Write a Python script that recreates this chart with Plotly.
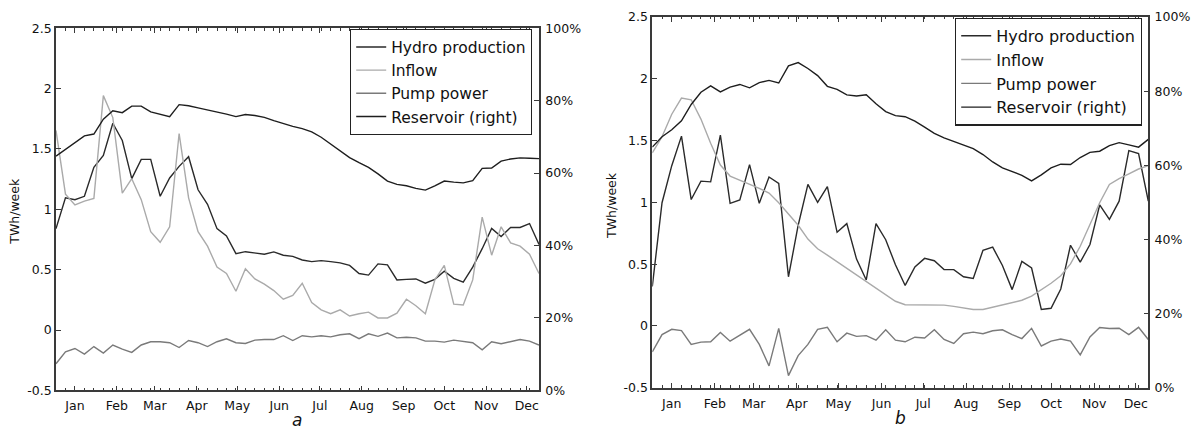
import plotly.graph_objects as go
import datetime as dt

W, H = 1195, 436

weeks = list(range(1, 53))
month_labels = ["Jan", "Feb", "Mar", "Apr", "May", "Jun", "Jul", "Aug", "Sep", "Oct", "Nov", "Dec"]
# month ticks at the 15th of each month, expressed in week units (week 1 = Jan 1)
month_ticks = [1 + ((dt.date(2013, m, 15) - dt.date(2013, 1, 1)).days) / 7 for m in range(1, 13)]

# ---------- panel a ----------
hydro_a = [0.84, 1.095, 1.08, 1.108, 1.348, 1.447, 1.713, 1.57, 1.254, 1.414,
           1.414, 1.108, 1.26, 1.356, 1.436, 1.162, 1.042, 0.84, 0.78, 0.633,
           0.649, 0.64, 0.628, 0.647, 0.62, 0.61, 0.58, 0.567, 0.575, 0.567,
           0.556, 0.535, 0.468, 0.455, 0.548, 0.54, 0.415, 0.42, 0.423, 0.388,
           0.42, 0.487, 0.428, 0.396, 0.521, 0.674, 0.842, 0.775, 0.85, 0.85,
           0.882, 0.708]
inflow_a = [1.654, 1.126, 1.036, 1.068, 1.09, 1.942, 1.76, 1.134, 1.254, 1.08,
            0.815, 0.727, 0.855, 1.628, 1.095, 0.815, 0.695, 0.521, 0.468, 0.321,
            0.508, 0.423, 0.38, 0.327, 0.255, 0.287, 0.388, 0.228, 0.167, 0.135,
            0.167, 0.116, 0.135, 0.148, 0.1, 0.1, 0.14, 0.255, 0.201, 0.135,
            0.415, 0.535, 0.215, 0.207, 0.415, 0.935, 0.62, 0.855, 0.722, 0.695,
            0.628, 0.468]
pump_a = [-0.279, -0.18, -0.153, -0.199, -0.137, -0.191, -0.124, -0.159, -0.185, -0.124,
          -0.097, -0.097, -0.105, -0.145, -0.087, -0.105, -0.137, -0.097, -0.073, -0.105,
          -0.111, -0.084, -0.079, -0.079, -0.047, -0.087, -0.047, -0.057, -0.047, -0.057,
          -0.039, -0.031, -0.071, -0.031, -0.052, -0.025, -0.065, -0.06, -0.065, -0.092,
          -0.092, -0.1, -0.084, -0.092, -0.105, -0.164, -0.097, -0.113, -0.097, -0.079,
          -0.092, -0.124]
reservoir_a = [64.7, 66.5, 68.4, 70.3, 70.8, 74.9, 77.2, 76.7, 78.5, 78.5,
               76.9, 76.3, 75.6, 78.9, 78.6, 78.0, 77.5, 77.0, 76.3, 75.6,
               76.2, 75.9, 75.4, 74.5, 73.6, 72.9, 72.3, 71.4, 69.9, 68.1,
               66.3, 64.3, 62.9, 61.6, 59.8, 57.8, 56.9, 56.5, 55.8, 55.3,
               56.5, 57.8, 57.5, 57.3, 57.9, 61.3, 61.4, 63.3, 63.9, 64.2,
               64.1, 64.0]

# ---------- panel b ----------
hydro_b = [0.32, 0.997, 1.297, 1.536, 1.023, 1.172, 1.166, 1.544, 0.992, 1.02,
           1.305, 0.992, 1.205, 1.153, 0.398, 0.815, 1.145, 1.0, 1.127, 0.758,
           0.828, 0.541, 0.372, 0.828, 0.698, 0.495, 0.328, 0.477, 0.547, 0.528,
           0.456, 0.456, 0.398, 0.385, 0.612, 0.638, 0.489, 0.294, 0.523, 0.469,
           0.133, 0.143, 0.299, 0.653, 0.516, 0.659, 0.979, 0.862, 1.01, 1.419,
           1.395, 1.01]
inflow_b = [1.40, 1.531, 1.713, 1.844, 1.83, 1.674, 1.479, 1.302, 1.213, 1.18,
            1.153, 1.114, 1.075, 0.997, 0.906, 0.815, 0.703, 0.625, 0.573, 0.52,
            0.469, 0.417, 0.364, 0.312, 0.26, 0.2, 0.172, 0.172, 0.172, 0.172,
            0.169, 0.159, 0.146, 0.133, 0.133, 0.151, 0.172, 0.19, 0.208, 0.242,
            0.294, 0.346, 0.406, 0.502, 0.645, 0.815, 0.997, 1.145, 1.192, 1.231,
            1.27, 1.297]
pump_b = [-0.209, -0.07, -0.027, -0.037, -0.149, -0.131, -0.128, -0.052, -0.123, -0.078,
          -0.027, -0.149, -0.323, -0.019, -0.402, -0.24, -0.149, -0.027, -0.011, -0.128,
          -0.058, -0.084, -0.078, -0.115, -0.031, -0.115, -0.128, -0.091, -0.097, -0.031,
          -0.109, -0.141, -0.063, -0.05, -0.063, -0.039, -0.031, -0.07, -0.102, -0.019,
          -0.162, -0.123, -0.105, -0.123, -0.234, -0.089, -0.013, -0.021, -0.018, -0.07,
          -0.011, -0.109]
reservoir_b = [64.9, 67.7, 69.6, 72.0, 76.4, 79.7, 81.4, 79.8, 81.1, 81.8,
               80.9, 82.3, 82.9, 82.2, 86.8, 87.7, 86.1, 84.2, 81.3, 80.5,
               79.0, 78.7, 79.0, 76.6, 74.5, 73.4, 73.1, 71.9, 70.3, 68.6,
               67.4, 66.4, 65.5, 64.5, 62.9, 60.9, 59.3, 58.2, 57.3, 55.8,
               57.4, 59.3, 60.3, 60.2, 62.1, 63.5, 63.8, 65.3, 66.1, 65.5,
               64.9, 67.0]

series_names = ["Hydro production", "Inflow", "Pump power", "Reservoir (right)"]
colors = ["#2a2a2a", "#aaaaaa", "#7a7a7a", "#1e1e1e"]
FONT = "DejaVu Sans, Liberation Sans, sans-serif"
AXC = "#3a3a3a"
TICKFONT = dict(family=FONT, size=12.5, color="#111")

fig = go.Figure()

panels = [
    dict(data=[hydro_a, inflow_a, pump_a, reservoir_a], xa="x", ya="y", ya2="y2", legend="legend"),
    dict(data=[hydro_b, inflow_b, pump_b, reservoir_b], xa="x2", ya="y3", ya2="y4", legend="legend2"),
]
for p in panels:
    for i, (name, vals) in enumerate(zip(series_names, p["data"])):
        fig.add_trace(go.Scatter(
            x=weeks, y=vals, mode="lines", name=name,
            line=dict(color=colors[i], width=1.4),
            xaxis=p["xa"], yaxis=(p["ya2"] if i == 3 else p["ya"]),
            legend=p["legend"], showlegend=True,
        ))

def px_x(v):
    return v / W

def px_y(v):
    return 1 - v / H

common_x = dict(
    range=[1, 52], tickvals=month_ticks, ticktext=month_labels,
    ticks="inside", ticklen=5, tickwidth=1, tickcolor=AXC,
    minor=dict(tickmode="linear", tick0=1, dtick=1, ticks="inside", ticklen=2.5, tickcolor=AXC),
    showline=True, linecolor=AXC, linewidth=1.6, mirror="ticks",
    showgrid=False, zeroline=False, ticklabelstandoff=3,
    tickfont=TICKFONT,
)
common_y = dict(
    range=[-0.5, 2.5], tickvals=[-0.5, 0, 0.5, 1, 1.5, 2, 2.5],
    ticktext=["-0.5", "0", "0.5", "1", "1.5", "2", "2.5"],
    ticks="inside", ticklen=5, tickcolor=AXC,
    showline=True, linecolor=AXC, linewidth=1.6, mirror=True,
    showgrid=False, zeroline=False,
    tickfont=TICKFONT,
)
common_y2 = dict(
    range=[0, 100], tickvals=[0, 20, 40, 60, 80, 100],
    ticktext=["0%", "20%", "40%", "60%", "80%", "100%"],
    side="right", ticks="inside", ticklen=5, tickcolor=AXC,
    showline=True, linecolor=AXC, linewidth=1.6,
    showgrid=False, zeroline=False, ticklabelstandoff=2,
    tickfont=TICKFONT,
)

dom_a_x = [px_x(56), px_x(539)]
dom_a_y = [px_y(396), px_y(21)]
dom_b_x = [px_x(652.3), px_x(1148.3)]
dom_b_y = [px_y(393.3), px_y(9.3)]

ann_font = dict(family=FONT, size=12.5, color="#111")

fig.update_layout(
    width=W, height=436,
    margin=dict(l=0, r=0, t=0, b=0),
    paper_bgcolor="white", plot_bgcolor="white",
    font=dict(family=FONT, color="#111"),
    xaxis=dict(domain=dom_a_x, anchor="y", **common_x),
    yaxis=dict(domain=dom_a_y, anchor="x", **common_y),
    yaxis2=dict(domain=dom_a_y, anchor="x", overlaying="y", **common_y2),
    xaxis2=dict(domain=dom_b_x, anchor="y3", **common_x),
    yaxis3=dict(domain=dom_b_y, anchor="x2", **common_y),
    yaxis4=dict(domain=dom_b_y, anchor="x2", overlaying="y3", **common_y2),
    legend=dict(
        x=px_x(532), y=px_y(22), xanchor="right", yanchor="top",
        bgcolor="white", bordercolor="#222", borderwidth=1.2,
        font=dict(family=FONT, size=15.5, color="#111"),
        itemwidth=30, tracegroupgap=0,
    ),
    legend2=dict(
        x=px_x(1142), y=px_y(10), xanchor="right", yanchor="top",
        bgcolor="white", bordercolor="#222", borderwidth=1.2,
        font=dict(family=FONT, size=16, color="#111"),
        itemwidth=30, tracegroupgap=0,
    ),
    annotations=[
        dict(text="TWh/week", x=px_x(15), y=px_y(211), xref="paper", yref="paper",
             xanchor="center", yanchor="middle",
             textangle=-90, showarrow=False, font=ann_font),
        dict(text="TWh/week", x=px_x(612), y=px_y(205), xref="paper", yref="paper",
             xanchor="center", yanchor="middle",
             textangle=-90, showarrow=False, font=ann_font),
        dict(text="<i>a</i>", x=px_x(297), y=px_y(427), xref="paper", yref="paper",
             xanchor="center", yanchor="middle",
             showarrow=False, font=dict(family=FONT, size=17, color="#111")),
        dict(text="<i>b</i>", x=px_x(900), y=px_y(425), xref="paper", yref="paper",
             xanchor="center", yanchor="middle",
             showarrow=False, font=dict(family=FONT, size=17, color="#111")),
    ],
)

fig.write_html("out.html")
